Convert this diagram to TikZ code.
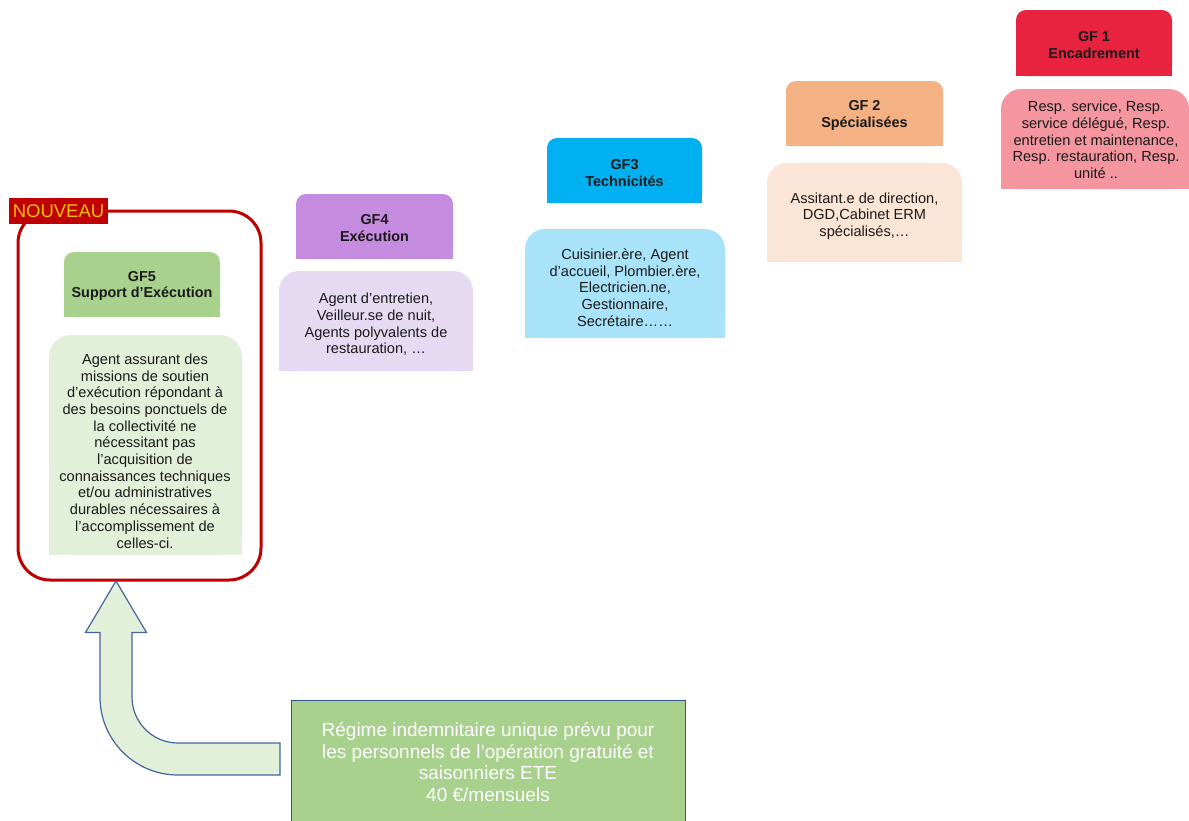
\documentclass[tikz,border=0pt]{standalone}
\usepackage{fontspec}
\setmainfont{Liberation Sans}
\definecolor{hOne}{HTML}{E8233F}
\definecolor{dOne}{HTML}{F4959F}
\definecolor{hTwo}{HTML}{F4B183}
\definecolor{dTwo}{HTML}{FBE5D6}
\definecolor{hThree}{HTML}{00B0F0}
\definecolor{dThree}{HTML}{A9E3FA}
\definecolor{hFour}{HTML}{C48BDE}
\definecolor{dFour}{HTML}{E6D9F2}
\definecolor{hFive}{HTML}{A9D18E}
\definecolor{dFive}{HTML}{E2F0D9}
\definecolor{frameRed}{HTML}{C00000}
\definecolor{nouvText}{HTML}{FFC000}
\definecolor{arrowLine}{HTML}{4464A0}
\definecolor{boxLine}{HTML}{2F5597}
\definecolor{txtDark}{HTML}{1A1A1A}
\newcommand{\gfbox}[6]{%
  \fill[#1, rounded corners=#2] (#3,#4) rectangle (#5,#6);
  \fill[#1] (#3,{(#4+#6)/2}) rectangle (#5,#6);}
\tikzset{
  desctxt/.style={inner sep=0pt, align=center, text=txtDark, font=\fontsize{14.6}{16.7}\selectfont},
  headtxt/.style={inner sep=0pt, align=center, text=txtDark, font=\fontsize{14.4}{16.7}\selectfont\bfseries},
}
\begin{document}
\begin{tikzpicture}[x=1pt,y=-1pt]
\useasboundingbox (0,0) rectangle (1189,820);
\fill[white] (0,0) rectangle (1189,820);

% GF1
\gfbox{hOne}{10pt}{1016}{10}{1172}{76}
\node[headtxt] (h1) at (1094,45) {GF 1\\Encadrement};
\gfbox{dOne}{20pt}{1001}{89}{1189}{189}
\node[desctxt] (d1) at (1096,140) {Resp. service, Resp.\\service délégué, Resp.\\entretien et maintenance,\\Resp. restauration, Resp.\\unité ..};

% GF2
\gfbox{hTwo}{10pt}{786}{81}{943}{146}
\node[headtxt] (h2) at (864.5,115.5) {GF 2\\Spécialisées};
\gfbox{dTwo}{20pt}{767}{163}{962}{262}
\node[desctxt] (d2) at (864.5,216) {Assitant.e de direction,\\DGD,Cabinet ERM\\spécialisés,…};

% GF3
\gfbox{hThree}{10pt}{547}{138}{702}{203}
\node[headtxt] (h3) at (624.5,173) {GF3\\Technicités};
\gfbox{dThree}{20pt}{525}{229}{725}{338}
\node[desctxt] (d3) at (625,287.5) {Cuisinier.ère, Agent\\d’accueil, Plombier.ère,\\Electricien.ne,\\Gestionnaire,\\Secrétaire……};

% GF4
\gfbox{hFour}{10pt}{296}{194}{453}{259}
\node[headtxt] (h4) at (374.5,228) {GF4\\Exécution};
\gfbox{dFour}{20pt}{279}{271}{473}{371}
\node[desctxt] (d4) at (376,324.5) {Agent d’entretien,\\Veilleur.se de nuit,\\Agents polyvalents de\\restauration, …};

% GF5
\draw[frameRed, line width=3pt, rounded corners=32pt] (18,211) rectangle (261,580);
\gfbox{hFive}{10pt}{64}{252}{220}{317}
\node[headtxt] (h5) at (142,286) {GF5\\Support d’Exécution};
\gfbox{dFive}{22pt}{49}{335}{242}{555}
\node[desctxt] (d5) at (145,451) {Agent assurant des\\missions de soutien\\d’exécution répondant à\\des besoins ponctuels de\\la collectivité ne\\nécessitant pas\\l’acquisition de\\connaissances techniques\\et/ou administratives\\durables nécessaires à\\l’accomplissement de\\celles-ci.};

% NOUVEAU
\fill[frameRed] (9,198) rectangle (108,224);
\node[inner sep=0pt, text=nouvText, font=\fontsize{18.5}{20}\selectfont] (nouv) at (58.5,211.5) {NOUVEAU};

% bottom box
\draw[fill=hFive, draw=boxLine, line width=1pt] (291,700) rectangle (685,826);
\node[inner sep=0pt, align=center, text=white, font=\fontsize{19}{21.7}\selectfont] (regime) at (488,762) {Régime indemnitaire unique prévu pour\\les personnels de l’opération gratuité et\\saisonniers ETE\\40 €/mensuels};

% curved block arrow
\draw[fill=dFive, draw=arrowLine, line width=1.2pt, line join=miter]
  (116,581) -- (146.5,632.5) -- (132,632.5) -- (132,697)
  .. controls (132,722.4) and (152.6,743) .. (178,743)
  -- (280,743) -- (280,775) -- (178,775)
  .. controls (134.9,775) and (100,740.1) .. (100,697)
  -- (100,632.5) -- (85.5,632.5) -- cycle;
\end{tikzpicture}
\end{document}
